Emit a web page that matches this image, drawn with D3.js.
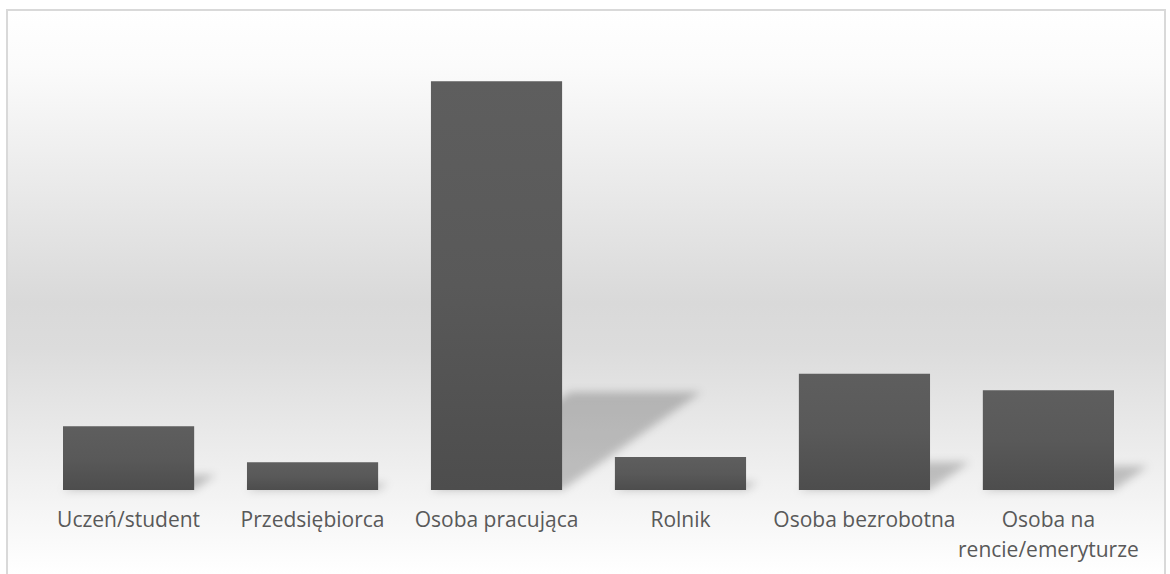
<!DOCTYPE html>
<html>
<head>
<meta charset="utf-8">
<script src="https://cdn.jsdelivr.net/npm/d3@7"></script>
<style>
  html, body { margin: 0; padding: 0; background: #ffffff; }
  svg { display: block; }
</style>
</head>
<body>
<svg id="chart" width="1170" height="574"></svg>
<script>
// ---- data ----
const categories = ["Uczeń/student", "Przedsiębiorca", "Osoba pracująca", "Rolnik", "Osoba bezrobotna", "Osoba na rencie/emeryturze"];
const values = [8.5, 3.7, 54.5, 4.4, 15.5, 13.3];
const yDomain = [0, 60];

// ---- layout ----
const svg = d3.select("#chart");
const defs = svg.append("defs");

// background gradient of chart area
const bg = defs.append("linearGradient").attr("id", "bgGrad")
  .attr("gradientUnits", "userSpaceOnUse").attr("x1", 0).attr("y1", 10).attr("x2", 0).attr("y2", 574);
[[0, "#ffffff"], [0.1, "#fbfbfb"], [0.52, "#d9d9d9"], [0.6, "#dcdcdc"], [0.85, "#f2f2f2"], [1, "#ffffff"]]
  .forEach(([o, c]) => bg.append("stop").attr("offset", o).attr("stop-color", c));

// bar gradient
const bgBar = defs.append("linearGradient").attr("id", "barGrad")
  .attr("x1", 0).attr("y1", 0).attr("x2", 0).attr("y2", 1);
[[0, "#5e5e5e"], [0.5, "#595959"], [1, "#4d4d4d"]]
  .forEach(([o, c]) => bgBar.append("stop").attr("offset", o).attr("stop-color", c));

// shadow blur
defs.append("filter").attr("id", "blur")
  .attr("x", "-30%").attr("y", "-30%").attr("width", "160%").attr("height", "160%")
  .append("feGaussianBlur").attr("stdDeviation", 4.5);

// chart area
svg.append("rect")
  .attr("x", 7).attr("y", 10).attr("width", 1158).attr("height", 620)
  .attr("fill", "url(#bgGrad)")
  .attr("stroke", "#d9d9d9").attr("stroke-width", 2);

const x = d3.scaleBand().domain(categories).range([36.6, 1140.4]).paddingInner(0.287).paddingOuter(0.1435);
const y = d3.scaleLinear().domain(yDomain).range([490, 40]);

const data = categories.map((c, i) => ({ c, v: values[i] }));

// perspective shadows
const k = 0.24, skew = 1.42;
svg.append("g").attr("filter", "url(#blur)")
  .selectAll("path").data(data).join("path")
  .attr("d", d => {
    const x0 = x(d.c), x1 = x(d.c) + x.bandwidth();
    const base = y(0);
    const h = (y(0) - y(d.v)) * k;
    const s = h * skew;
    return `M${x0},${base}L${x1},${base}L${x1 + s},${base - h}L${x0 + s},${base - h}Z`;
  })
  .attr("fill", "#000").attr("fill-opacity", 0.21);

// bars
svg.append("g").selectAll("rect").data(data).join("rect")
  .attr("x", d => x(d.c))
  .attr("y", d => y(d.v))
  .attr("width", x.bandwidth())
  .attr("height", d => y(0) - y(d.v))
  .attr("fill", "url(#barGrad)");

// x axis labels
const axis = d3.axisBottom(x).tickSize(0).tickPadding(0);
const gx = svg.append("g").attr("transform", `translate(0,${y(0)})`).call(axis);
gx.select(".domain").remove();
gx.selectAll("text")
  .attr("fill", "#595959")
  .attr("font-family", "Open Sans, sans-serif")
  .attr("font-size", 21)
  .attr("dy", null)
  .attr("y", 37)
  .each(function(d) {
    const t = d3.select(this);
    const words = d.split(" ");
    const maxW = x.step();
    t.text(null);
    let line = [];
    let tspan = t.append("tspan").attr("x", 0);
    words.forEach(w => {
      line.push(w);
      tspan.text(line.join(" "));
      if (tspan.node().getComputedTextLength() > maxW && line.length > 1) {
        line.pop();
        tspan.text(line.join(" "));
        line = [w];
        tspan = t.append("tspan").attr("x", 0).attr("dy", "1.42em").text(w);
      }
    });
  });
</script>
</body>
</html>
